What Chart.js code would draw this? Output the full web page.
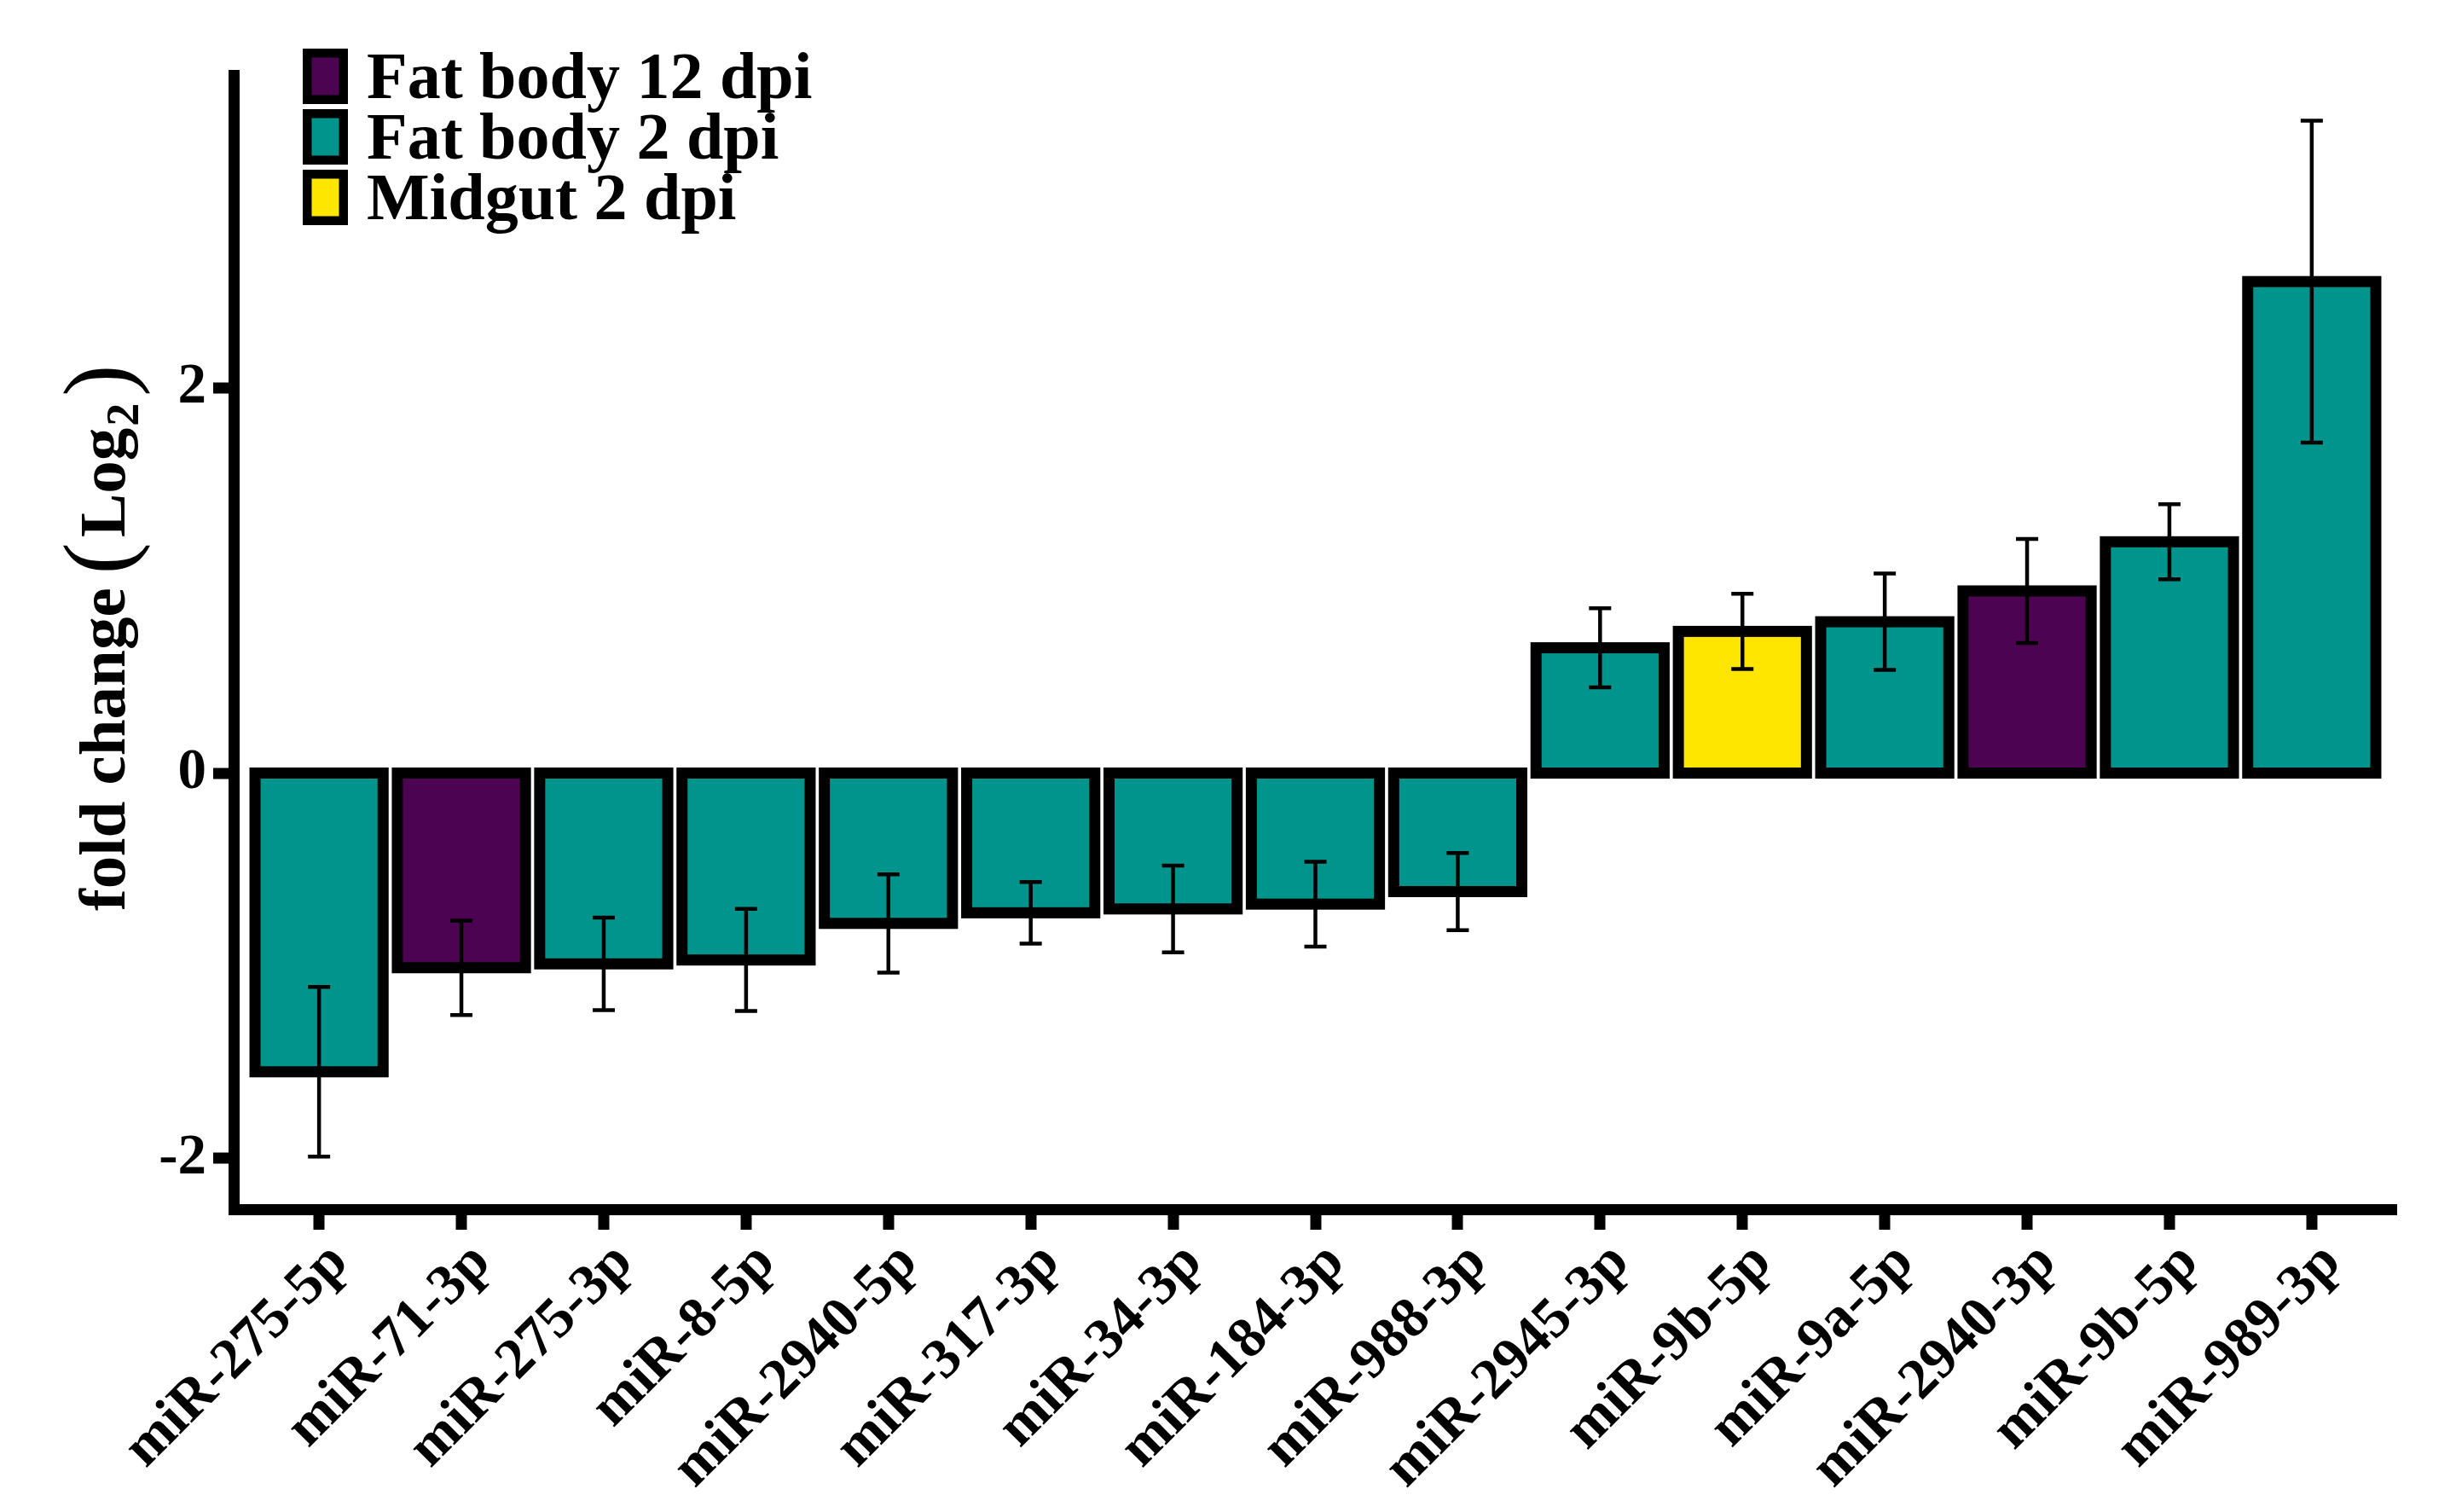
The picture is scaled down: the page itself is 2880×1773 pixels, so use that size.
<!DOCTYPE html>
<html>
<head>
<meta charset="utf-8">
<script src="https://cdn.jsdelivr.net/npm/chart.js@4.4.1/dist/chart.umd.min.js"></script>
<style>
  html, body { margin: 0; padding: 0; background: #ffffff; }
  #wrap { width: 2880px; height: 1773px; }
  canvas { display: block; }
</style>
</head>
<body>
<div id="wrap"><canvas id="c" width="2880" height="1773"></canvas></div>
<script>
// ---------------- data ----------------
const categories = ['miR-275-5p', 'miR-71-3p', 'miR-275-3p', 'miR-8-5p', 'miR-2940-5p',
  'miR-317-3p', 'miR-34-3p', 'miR-184-3p', 'miR-988-3p', 'miR-2945-3p',
  'miR-9b-5p', 'miR-9a-5p', 'miR-2940-3p', 'miR-9b-5p', 'miR-989-3p'];
const foldChange = [-1.55, -1.01, -0.99, -0.97, -0.78, -0.725, -0.705, -0.68, -0.615,
  0.65, 0.735, 0.785, 0.945, 1.20, 2.55];
const errorSize = [0.44, 0.245, 0.24, 0.265, 0.255, 0.16, 0.225, 0.22, 0.20,
  0.205, 0.195, 0.25, 0.27, 0.195, 0.835];
const tissueGroup = ['Fat body 2 dpi', 'Fat body 12 dpi', 'Fat body 2 dpi', 'Fat body 2 dpi',
  'Fat body 2 dpi', 'Fat body 2 dpi', 'Fat body 2 dpi', 'Fat body 2 dpi', 'Fat body 2 dpi',
  'Fat body 2 dpi', 'Midgut 2 dpi', 'Fat body 2 dpi', 'Fat body 12 dpi', 'Fat body 2 dpi',
  'Fat body 2 dpi'];
const seriesNames = ['Fat body 12 dpi', 'Fat body 2 dpi', 'Midgut 2 dpi'];
const seriesColors = ['#4C0452', '#00948C', '#FFE600'];
const yTickValues = [-2, 0, 2];
const yAxisRange = [-2.2655, 3.6195];
const xExpand = 0.6;

// ---------------- styles ----------------
const SERIF = "'Liberation Serif', 'Times New Roman', serif";
const LINE = 13;

const datasets = seriesNames.map((name, s) => ({
  label: name,
  data: categories.map((c, i) => tissueGroup[i] === name ? { x: i, y: foldChange[i] } : null)
                  .filter(d => d !== null),
  backgroundColor: seriesColors[s],
  borderWidth: 0,
  grouped: false,
  barPercentage: 0.9,
  categoryPercentage: 1.0
}));

const outlineAndErrors = {
  id: 'outlineAndErrors',
  afterDatasetsDraw(chart) {
    const ctx = chart.ctx;
    const yScale = chart.scales.y;
    ctx.save();
    ctx.lineWidth = LINE;
    ctx.strokeStyle = '#000';
    ctx.lineJoin = 'miter';
    chart.data.datasets.forEach((ds, di) => {
      const meta = chart.getDatasetMeta(di);
      meta.data.forEach(el => {
        const p = el.getProps(['x', 'y', 'base', 'width'], true);
        ctx.strokeRect(p.x - p.width / 2, Math.min(p.y, p.base), p.width, Math.abs(p.base - p.y));
      });
    });
    ctx.lineWidth = 4.5;
    ctx.lineCap = 'butt';
    const cap = 13;
    chart.data.datasets.forEach((ds, di) => {
      const meta = chart.getDatasetMeta(di);
      meta.data.forEach((el, j) => {
        const i = ds.data[j].x;
        const x = el.getProps(['x'], true).x;
        const yHi = yScale.getPixelForValue(foldChange[i] + errorSize[i]);
        const yLo = yScale.getPixelForValue(foldChange[i] - errorSize[i]);
        ctx.beginPath();
        ctx.moveTo(x, yHi); ctx.lineTo(x, yLo);
        ctx.moveTo(x - cap, yHi); ctx.lineTo(x + cap, yHi);
        ctx.moveTo(x - cap, yLo); ctx.lineTo(x + cap, yLo);
        ctx.stroke();
      });
    });
    ctx.restore();
  }
};

const legendAndTitle = {
  id: 'legendAndTitle',
  afterDraw(chart) {
    const ctx = chart.ctx;
    ctx.save();
    const L = { x: 355, y: 57, w: 53, h: 65, step: 71, stroke: 10.5, textX: 430, base: 58 };
    chart.data.datasets.forEach((ds, s) => {
      const top = L.y + s * L.step;
      const ins = L.stroke / 2;
      ctx.fillStyle = ds.backgroundColor;
      ctx.fillRect(L.x + ins, top + ins, L.w - 2 * ins, L.h - 2 * ins);
      ctx.lineWidth = L.stroke;
      ctx.strokeStyle = '#000';
      ctx.strokeRect(L.x + ins, top + ins, L.w - 2 * ins, L.h - 2 * ins);
      ctx.fillStyle = '#000';
      ctx.font = 'bold 78px ' + SERIF;
      ctx.textAlign = 'left';
      ctx.textBaseline = 'alphabetic';
      ctx.fillText(ds.label, L.textX, top + L.base);
    });
    ctx.translate(146, 1068);
    ctx.rotate(-Math.PI / 2);
    ctx.fillStyle = '#000';
    ctx.textAlign = 'left';
    ctx.textBaseline = 'alphabetic';
    let x = 0;
    ctx.font = 'bold 77px ' + SERIF;
    ctx.fillText('fold change', x, 0);
    x += ctx.measureText('fold change').width + 16;
    ctx.font = '112px ' + SERIF;
    ctx.fillText('(', x, 6);
    x += ctx.measureText('(').width + 6;
    ctx.font = 'bold 77px ' + SERIF;
    ctx.fillText('Log', x, 0);
    x += ctx.measureText('Log').width + 2;
    ctx.font = 'bold 54px ' + SERIF;
    ctx.fillText('2', x, 16);
    x += ctx.measureText('2').width + 8;
    ctx.font = '112px ' + SERIF;
    ctx.fillText(')', x, 6);
    ctx.restore();
  }
};

const tickFont = { family: SERIF, size: 67, weight: 'bold' };

new Chart(document.getElementById('c'), {
  type: 'bar',
  data: { datasets },
  options: {
    responsive: false,
    animation: false,
    devicePixelRatio: 1,
    layout: { padding: { left: 0, top: 88.5, right: 69, bottom: 0 } },
    plugins: { legend: { display: false }, title: { display: false }, tooltip: { enabled: false } },
    scales: {
      x: {
        type: 'linear',
        offset: false,
        min: -xExpand,
        max: categories.length - 1 + xExpand,
        afterBuildTicks: s => { s.ticks = categories.map((c, i) => ({ value: i })); },
        afterFit: s => { s.height = 354.5; },
        ticks: {
          autoSkip: false, minRotation: 45, maxRotation: 45,
          callback: v => categories[v],
          font: tickFont, color: '#000', padding: 0, labelOffset: 24
        },
        grid: { offset: false, drawOnChartArea: false, drawTicks: true, tickLength: 23.5, tickWidth: LINE, tickColor: '#000', lineWidth: 0 },
        border: { display: true, width: LINE, color: '#000' }
      },
      y: {
        min: yAxisRange[0],
        max: yAxisRange[1],
        afterBuildTicks: s => { s.ticks = yTickValues.map(v => ({ value: v })); },
        afterFit: s => { s.width = 274; },
        ticks: { font: tickFont, color: '#000', padding: 8, callback: v => String(v) },
        grid: { drawOnChartArea: false, drawTicks: true, tickLength: 24, tickWidth: LINE, tickColor: '#000', lineWidth: 0 },
        border: { display: true, width: LINE, color: '#000' }
      }
    }
  },
  plugins: [outlineAndErrors, legendAndTitle]
});
</script>
</body>
</html>
